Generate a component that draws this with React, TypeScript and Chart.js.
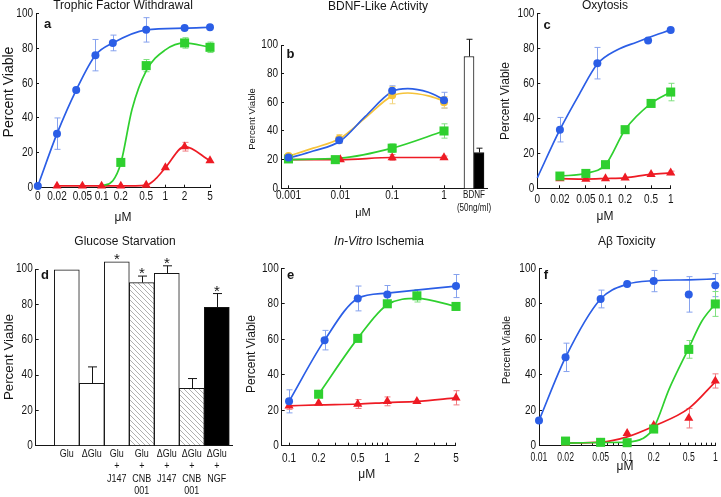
import React, { useEffect, useRef } from 'react';
import { Chart, registerables } from 'chart.js';

Chart.register(...registerables);

const W = 721;
const H = 497;
const XH = 20;
const YW = 30;
const FONT = "'Liberation Sans', Arial, Helvetica, sans-serif";
const INK = '#151515';

const BLUE = '#2b5ee6';
const BLUE_E = '#86a2ee';
const GREEN = '#2fd02f';
const GREEN_E = '#7fe07f';
const RED = '#ee1b24';
const RED_E = '#f07b80';
const GOLD = '#f6c33a';
const GOLD_E = '#f2d47c';

const yTicks = [0, 20, 40, 60, 80, 100];

// ---------- panel a : Trophic Factor Withdrawal ----------
const aTicks = [0.01, 0.02, 0.05, 0.1, 0.2, 0.5, 1, 2, 5];
const aTickLabels = ['0', '0.02', '0.05', '0.1', '0.2', '0.5', '1', '2', '5'];
const aBlueX = [0.01, 0.02, 0.04, 0.08, 0.15, 0.5, 2, 5];
const aBlueY = [1, 31, 56, 76, 83, 90.5, 91.5, 92];
const aBlueErr = [0, 9, 0, 9, 4.5, 7, 0, 0];
const aGreenX = [0.2, 0.5, 2, 5];
const aGreenY = [14.5, 70, 83, 80.5];
const aGreenErr = [0, 3.5, 3, 3];
const aGreenFitX = [0.1, 0.15, 0.2, 0.3, 0.5, 1, 2, 5];
const aGreenFitY = [1, 4, 14, 45, 67, 79, 83, 80.5];
const aRedX = [0.02, 0.05, 0.1, 0.2, 0.5, 1, 2, 5];
const aRedY = [1, 1, 1, 1, 1.5, 11.5, 23.5, 15.5];
const aRedErr = [0, 0, 0, 0, 0, 0, 2.5, 0];
const aRedFitX = [0.02, 0.05, 0.1, 0.2, 0.5, 0.7, 1, 2, 5];
const aRedFitY = [1, 1, 1, 1, 1.5, 5, 11.5, 23.5, 15.5];

// ---------- panel b : BDNF-Like Activity ----------
const bTicks = [0.001, 0.01, 0.1, 1];
const bTickLabels = ['0.001', '0.01', '0.1', '1'];
const bBlueX = [0.001, 0.0095, 0.1, 1];
const bBlueY = [21.5, 33.5, 68, 61.5];
const bBlueErr = [1.5, 2, 3.5, 5.5];
const bFitX = [0.001, 0.003, 0.01, 0.03, 0.1, 0.2, 0.5, 1];
const bBlueFitY = [21, 26, 33, 50, 67.5, 69.5, 67, 62];
const bGoldY = [22.5, 34.5, 65, 60];
const bGoldErr = [1.5, 3, 6, 4];
const bGoldFitY = [22.5, 28, 35, 49, 64.5, 66.5, 64.5, 61];
const bGreenX = [0.001, 0.008, 0.1, 1];
const bGreenY = [20.5, 20, 28, 40];
const bGreenErr = [1.5, 1, 3, 5];
const bGreenFitX = [0.001, 0.01, 0.1, 1];
const bGreenFitY = [20, 21, 28, 40];
const bRedX = [0.001, 0.01, 0.1, 1];
const bRedY = [20, 20, 21.5, 21.5];
const bRedErr = [0, 0, 2, 1];
const bBdnfLabel = ['BDNF', '(50ng/ml)'];
const bBdnfWhite = 92;
const bBdnfWhiteErr = 12;
const bBdnfBlack = 25;
const bBdnfBlackErr = 3;

// ---------- panel c : Oxytosis ----------
const cTicks = [0.009, 0.02, 0.05, 0.1, 0.2, 0.5, 1];
const cTickLabels = ['0', '0.02', '0.05', '0.1', '0.2', '0.5', '1'];
const cBlueX = [0.02, 0.075, 0.45, 1];
const cBlueY = [33.5, 71.5, 84.5, 90.5];
const cBlueErr = [7, 9, 0, 0];
const cBlueFitX = [0.009, 0.02, 0.04, 0.075, 0.15, 0.3, 0.45, 1];
const cBlueFitY = [6, 33.5, 54, 71, 79, 83.5, 86, 90.5];
const cGreenX = [0.02, 0.05, 0.1, 0.2, 0.5, 1];
const cGreenY = [7, 8.5, 13.5, 33.5, 48.5, 55];
const cGreenErr = [0, 0, 0, 0, 0, 5];
const cRedX = [0.02, 0.05, 0.1, 0.2, 0.5, 1];
const cRedY = [5.5, 5.3, 5.6, 6, 8, 8.8];
const cRedErr = [0, 0, 0, 0, 0, 1];

// ---------- panel d : Glucose Starvation ----------
const dLabels = [
  ['Glu'],
  ['ΔGlu'],
  ['Glu', '+', 'J147'],
  ['Glu', '+', 'CNB', '001'],
  ['ΔGlu', '+', 'J147'],
  ['ΔGlu', '+', 'CNB', '001'],
  ['ΔGlu', '+', 'NGF'],
];
const dValues = [99.5, 35.3, 104, 92.3, 97.5, 32.5, 78.3];
const dErrors = [0, 9.3, 0, 3.7, 4.3, 5.5, 7.8];
const dSignificant = [false, false, true, true, true, false, true];
const dFillKind = ['white', 'white', 'white', 'hatch', 'white', 'hatch', 'black'];

// ---------- panel e : In-Vitro Ischemia ----------
const eTicks = [0.1, 0.2, 0.3, 0.4, 0.5, 0.6, 0.7, 0.8, 0.9, 1, 2, 3, 4, 5];
const eTickLabels = ['0.1', '0.2', '', '', '0.5', '', '', '', '', '1', '2', '', '', '5'];
const eBlueX = [0.1, 0.23, 0.5, 1, 5];
const eBlueY = [25, 59.5, 83, 85.3, 90];
const eBlueErr = [6.5, 5.5, 7, 5, 6.5];
const eBlueFitY = [25, 59.5, 83, 86, 90];
const eGreenX = [0.2, 0.5, 1, 2, 5];
const eGreenY = [29, 60.5, 80, 84.5, 78.5];
const eGreenErr = [0, 0, 0, 3.5, 0];
const eGreenFitY = [29, 60.5, 79.5, 83, 78.5];
const eRedX = [0.1, 0.2, 0.5, 1, 2, 5];
const eRedY = [22.5, 24, 23.5, 25, 25, 27];
const eRedErr = [2, 0, 2.5, 2.5, 0, 4];
const eRedFitY = [22.5, 23, 23.5, 24.3, 25, 27];

// ---------- panel f : Abeta Toxicity ----------
const fTicks = [0.01, 0.02, 0.03, 0.04, 0.05, 0.06, 0.07, 0.08, 0.09, 0.1, 0.2, 0.3, 0.4, 0.5, 0.6, 0.7, 0.8, 0.9, 1];
const fTickLabels = ['0.01', '0.02', '', '', '0.05', '', '', '', '', '0.1', '0.2', '', '', '0.5', '', '', '', '', '1'];
const fBlueX = [0.01, 0.02, 0.05, 0.1, 0.2, 0.5, 1];
const fBlueY = [14.2, 49.8, 82.7, 91.2, 92.8, 85.3, 90.5];
const fBlueErr = [0, 8, 5, 0, 6, 10, 6.5];
const fBlueFitY = [14.2, 49.8, 82.7, 91, 93, 93.5, 94];
const fGreenX = [0.02, 0.05, 0.1, 0.2, 0.5, 1];
const fGreenY = [2.6, 1.9, 1.7, 9.4, 54.3, 79.9];
const fGreenErr = [0, 0, 0, 0, 5, 7];
const fGreenFitX = [0.02, 0.05, 0.1, 0.15, 0.2, 0.3, 0.5, 0.7, 1];
const fGreenFitY = [1.5, 1.8, 2, 4, 10, 32, 55, 70, 80];
const fRedX = [0.02, 0.05, 0.1, 0.2, 0.5, 1];
const fRedY = [1.5, 1.5, 7, 11.5, 15.5, 36.5];
const fRedErr = [0, 0, 0, 0, 5.5, 4];
const fRedFitY = [1.5, 2, 5, 11, 21, 36];

// ---------- helpers ----------
const pts = (xs: number[], ys: number[]) => xs.map((x, i) => ({ x, y: ys[i] }));
const RADIUS: any = { circle: 4, rect: 6.4, triangle: 5.3 };

function markers(color: string, errColor: string, style: string, xs: number[], ys: number[], errs: number[]) {
  return {
    data: pts(xs, ys),
    showLine: false,
    pointStyle: style,
    pointRadius: RADIUS[style],
    pointBackgroundColor: color,
    pointBorderColor: color,
    pointBorderWidth: 0,
    errors: errs,
    errorColor: errColor,
    clip: false,
    order: 0,
  };
}

function fitLine(color: string, xs: number[], ys: number[]) {
  return {
    data: pts(xs, ys),
    borderColor: color,
    borderWidth: 1.7,
    pointRadius: 0,
    fill: false,
    cubicInterpolationMode: 'monotone',
    clip: false,
    order: 1,
  };
}

function drawErrors(chart: any, onTop: boolean) {
  const ctx = chart.ctx;
  const ys = chart.scales.y;
  chart.data.datasets.forEach((ds: any, di: number) => {
    if (!ds.errors || !!ds.errorOnTop !== onTop) return;
    const meta = chart.getDatasetMeta(di);
    ctx.save();
    ctx.strokeStyle = ds.errorColor;
    ctx.lineWidth = 1;
    meta.data.forEach((el: any, i: number) => {
      const e = ds.errors[i];
      if (!e) return;
      const v = ds.data[i].y;
      const x = Math.round(el.x) + 0.5;
      const top = ys.getPixelForValue(v + e);
      const bot = ds.errorUpOnly ? ys.getPixelForValue(v) : ys.getPixelForValue(v - e);
      const cap = ds.errorCap ?? 3;
      ctx.beginPath();
      ctx.moveTo(x, top);
      ctx.lineTo(x, bot);
      ctx.moveTo(x - cap, top);
      ctx.lineTo(x + cap, top);
      if (!ds.errorUpOnly) {
        ctx.moveTo(x - cap, bot);
        ctx.lineTo(x + cap, bot);
      }
      ctx.stroke();
    });
    ctx.restore();
  });
}

const errorPlugin = {
  id: 'errorBars',
  beforeDatasetsDraw(chart: any) { drawErrors(chart, false); },
  afterDatasetsDraw(chart: any) { drawErrors(chart, true); },
};

type Part = { text: string; italic?: boolean };
type TextItem = { text?: string; parts?: Part[]; x: number; y: number; size: number; bold?: boolean; rotate?: boolean };

function textPlugin(items: TextItem[]) {
  return {
    id: 'panelText',
    afterDraw(chart: any) {
      const ctx = chart.ctx;
      items.forEach((it) => {
        ctx.save();
        ctx.translate(it.x, it.y);
        if (it.rotate) ctx.rotate(-Math.PI / 2);
        ctx.fillStyle = INK;
        ctx.textBaseline = 'middle';
        ctx.textAlign = 'left';
        const parts: Part[] = it.parts ?? [{ text: it.text as string }];
        const fontFor = (p: Part) => `${p.italic ? 'italic ' : ''}${it.bold ? 'bold ' : ''}${it.size}px ${FONT}`;
        let total = 0;
        parts.forEach((p) => { ctx.font = fontFor(p); total += ctx.measureText(p.text).width; });
        let cx = -total / 2;
        parts.forEach((p) => {
          ctx.font = fontFor(p);
          ctx.fillText(p.text, cx, 0);
          cx += ctx.measureText(p.text).width;
        });
        ctx.restore();
      });
    },
  };
}

// condensed tick labels, placed through the chart's own scales
type XLabels = { values: number[]; labels: (string | string[])[]; y: number; size: number; sx: number; lh?: number };

function drawCondensed(ctx: any, s: string, x: number, y: number, sx: number) {
  ctx.save();
  ctx.translate(x, y);
  ctx.scale(sx, 1);
  ctx.fillText(s, 0, 0);
  ctx.restore();
}

function tickLabelPlugin(xl: XLabels | null, withY: boolean) {
  return {
    id: 'condensedTicks',
    afterDraw(chart: any) {
      const ctx = chart.ctx;
      ctx.save();
      ctx.fillStyle = INK;
      ctx.textBaseline = 'middle';
      if (xl) {
        const sc = chart.scales.x;
        ctx.font = `${xl.size}px ${FONT}`;
        ctx.textAlign = 'center';
        xl.values.forEach((v, i) => {
          const lab = xl.labels[i];
          const lines = Array.isArray(lab) ? lab : [lab];
          const px = sc.getPixelForValue(v);
          lines.forEach((ln, j) => {
            if (ln) drawCondensed(ctx, ln, px, xl.y + j * (xl.lh ?? 0), xl.sx);
          });
        });
      }
      if (withY) {
        const sc = chart.scales.y;
        const x = chart.chartArea.left - 3;
        ctx.font = `12.5px ${FONT}`;
        ctx.textAlign = 'right';
        yTicks.forEach((v) => drawCondensed(ctx, String(v), x, sc.getPixelForValue(v), 0.8));
      }
      ctx.restore();
    },
  };
}

function starPlugin(values: number[], errors: number[], flags: boolean[]) {
  return {
    id: 'stars',
    afterDatasetsDraw(chart: any) {
      const ctx = chart.ctx;
      const xs = chart.scales.x;
      const ys = chart.scales.y;
      ctx.save();
      ctx.fillStyle = INK;
      ctx.font = `15px ${FONT}`;
      ctx.textAlign = 'center';
      ctx.textBaseline = 'alphabetic';
      flags.forEach((f, i) => {
        if (!f) return;
        ctx.fillText('*', xs.getPixelForValue(i), ys.getPixelForValue(values[i] + errors[i]) + 2);
      });
      ctx.restore();
    },
  };
}

function frame(L: number, R: number, T: number, B: number, yw = YW) {
  return { autoPadding: false, padding: { left: L - yw, right: W - R, top: T, bottom: H - B - XH } };
}

function baseOptions(layout: any, scales: any) {
  return {
    responsive: false,
    animation: false,
    events: [],
    layout,
    plugins: { legend: { display: false }, tooltip: { enabled: false }, title: { display: false } },
    scales,
  };
}

function yAxis(yw = YW) {
  return {
    type: 'linear',
    min: 0,
    max: 100,
    afterBuildTicks: (s: any) => { s.ticks = yTicks.map((v) => ({ value: v })); },
    afterFit: (s: any) => { s.width = yw; },
    ticks: { display: false },
    grid: { drawOnChartArea: false, drawTicks: true, tickLength: -3, color: INK, lineWidth: 1 },
    border: { display: true, color: INK, width: 1 },
  };
}

function logX(min: number, max: number, ticks: number[]) {
  return {
    type: 'logarithmic',
    min,
    max,
    afterBuildTicks: (s: any) => { s.ticks = ticks.map((v) => ({ value: v })); },
    afterFit: (s: any) => { s.height = XH; },
    ticks: { display: false, autoSkip: false },
    grid: { drawOnChartArea: false, drawTicks: true, tickLength: -3, color: INK, lineWidth: 1 },
    border: { display: true, color: INK, width: 1 },
  };
}

function lineChart(layout: any, x: any, datasets: any[], xl: XLabels, texts: TextItem[]) {
  return {
    type: 'line',
    data: { datasets },
    options: baseOptions(layout, { x, y: yAxis() }),
    plugins: [errorPlugin, tickLabelPlugin(xl, true), textPlugin(texts)],
  };
}

// ---------- charts ----------
function makeA() {
  return lineChart(
    frame(36, 210, 13.3, 187.7),
    logX(0.00937, 5, aTicks),
    [
      markers(BLUE, BLUE_E, 'circle', aBlueX, aBlueY, aBlueErr),
      markers(GREEN, GREEN_E, 'rect', aGreenX, aGreenY, aGreenErr),
      markers(RED, RED_E, 'triangle', aRedX, aRedY, aRedErr),
      fitLine(BLUE, aBlueX, aBlueY),
      fitLine(GREEN, aGreenFitX, aGreenFitY),
      fitLine(RED, aRedFitX, aRedFitY),
    ],
    { values: aTicks, labels: aTickLabels, y: 197, size: 12.5, sx: 0.8 },
    [
      { text: 'Trophic Factor Withdrawal', x: 123, y: 6, size: 12 },
      { text: 'a', x: 47.5, y: 24, size: 13, bold: true },
      { text: 'Percent Viable', x: 9.5, y: 92, size: 14, rotate: true },
      { text: 'μM', x: 123, y: 218, size: 12 },
    ],
  );
}

function makeB() {
  return lineChart(
    frame(281, 448, 45, 188.3),
    logX(0.000717, 1.194, bTicks),
    [
      markers(BLUE, BLUE_E, 'circle', bBlueX, bBlueY, bBlueErr),
      markers(GOLD, GOLD_E, 'circle', bBlueX, bGoldY, bGoldErr),
      markers(GREEN, GREEN_E, 'rect', bGreenX, bGreenY, bGreenErr),
      markers(RED, RED_E, 'triangle', bRedX, bRedY, bRedErr),
      fitLine(BLUE, bFitX, bBlueFitY),
      fitLine(GOLD, bFitX, bGoldFitY),
      fitLine(GREEN, bGreenFitX, bGreenFitY),
      fitLine(RED, bRedX, bRedY),
    ],
    { values: bTicks, labels: bTickLabels, y: 196, size: 12.5, sx: 0.8 },
    [
      { text: 'BDNF-Like Activity', x: 378, y: 7, size: 12 },
      { text: 'b', x: 290.5, y: 54, size: 13, bold: true },
      { text: 'Percent Viable', x: 252, y: 119, size: 9.5, rotate: true },
      { text: 'μM', x: 363, y: 213, size: 11 },
    ],
  );
}

function makeBBars() {
  const bar = (v: number, e: number, fill: string) => ({
    type: 'bar',
    data: [{ x: 0, y: v }],
    backgroundColor: fill,
    borderColor: INK,
    borderWidth: 1,
    barThickness: 10,
    errors: [e],
    errorColor: INK,
    errorUpOnly: true,
    errorOnTop: true,
    errorCap: 3,
    clip: false,
  });
  return {
    type: 'bar',
    data: { datasets: [bar(bBdnfWhite, bBdnfWhiteErr, '#ffffff'), bar(bBdnfBlack, bBdnfBlackErr, '#000000')] },
    options: baseOptions(frame(448, 487, 45, 188.3, 0), {
      x: {
        type: 'linear', min: -1, max: 0.5, offset: false,
        afterBuildTicks: (s: any) => { s.ticks = [{ value: 0 }]; },
        afterFit: (s: any) => { s.height = XH; },
        ticks: { display: false },
        grid: { display: false, offset: false },
        border: { display: true, color: INK, width: 1 },
      },
      y: { type: 'linear', min: 0, max: 100, display: false },
    }),
    plugins: [
      errorPlugin,
      tickLabelPlugin({ values: [0], labels: [bBdnfLabel], y: 195, size: 10.5, sx: 0.77, lh: 13 }, false),
    ],
  };
}

function makeC() {
  return lineChart(
    frame(537.3, 670.7, 13.3, 188.3),
    logX(0.009, 1, cTicks),
    [
      markers(BLUE, BLUE_E, 'circle', cBlueX, cBlueY, cBlueErr),
      markers(GREEN, GREEN_E, 'rect', cGreenX, cGreenY, cGreenErr),
      markers(RED, RED_E, 'triangle', cRedX, cRedY, cRedErr),
      fitLine(BLUE, cBlueFitX, cBlueFitY),
      fitLine(GREEN, cGreenX, cGreenY),
      fitLine(RED, cRedX, cRedY),
    ],
    { values: cTicks, labels: cTickLabels, y: 199.3, size: 12.5, sx: 0.8 },
    [
      { text: 'Oxytosis', x: 605, y: 6, size: 12 },
      { text: 'c', x: 547, y: 25, size: 13, bold: true },
      { text: 'Percent Viable', x: 506, y: 101, size: 12, rotate: true },
      { text: 'μM', x: 605, y: 216.7, size: 12 },
    ],
  );
}

function makeHatch() {
  const c = document.createElement('canvas');
  c.width = 5;
  c.height = 5;
  const g = c.getContext('2d') as CanvasRenderingContext2D;
  g.fillStyle = '#ffffff';
  g.fillRect(0, 0, 5, 5);
  g.strokeStyle = '#b0b0b0';
  g.lineWidth = 1;
  g.beginPath();
  g.moveTo(-1, -1);
  g.lineTo(6, 6);
  g.stroke();
  return g.createPattern(c, 'repeat');
}

function makeD() {
  const hatch = makeHatch();
  const fills = dFillKind.map((k) => (k === 'hatch' ? hatch : k === 'black' ? '#000000' : '#ffffff'));
  const idx = dLabels.map((_l, i) => i);
  return {
    type: 'bar',
    data: {
      datasets: [
        {
          data: dValues.map((v, i) => ({ x: i, y: v })),
          backgroundColor: fills,
          borderColor: INK,
          borderWidth: 1,
          barPercentage: 1,
          categoryPercentage: 1,
          errors: dErrors,
          errorColor: INK,
          errorUpOnly: true,
          errorOnTop: true,
          errorCap: 4.5,
          clip: false,
        },
      ],
    },
    options: baseOptions(frame(35.7, 233, 269, 445.7), {
      x: {
        type: 'linear', min: -1.244, max: 6.648, offset: false,
        afterBuildTicks: (s: any) => { s.ticks = idx.map((i) => ({ value: i })); },
        afterFit: (s: any) => { s.height = XH; },
        ticks: { display: false },
        grid: { display: false, offset: false },
        border: { display: true, color: INK, width: 1 },
      },
      y: yAxis(),
    }),
    plugins: [
      errorPlugin,
      starPlugin(dValues, dErrors, dSignificant),
      tickLabelPlugin({ values: idx, labels: dLabels, y: 454, size: 11.5, sx: 0.78, lh: 12.3 }, true),
      textPlugin([
        { text: 'Glucose Starvation', x: 125, y: 242, size: 12 },
        { text: 'd', x: 45, y: 275, size: 13, bold: true },
        { text: 'Percent Viable', x: 9.5, y: 357, size: 13.3, rotate: true },
      ]),
    ],
  };
}

function makeE() {
  return lineChart(
    frame(281.7, 456, 268.3, 445.7),
    logX(0.0842, 5, eTicks),
    [
      markers(BLUE, BLUE_E, 'circle', eBlueX, eBlueY, eBlueErr),
      markers(GREEN, GREEN_E, 'rect', eGreenX, eGreenY, eGreenErr),
      markers(RED, RED_E, 'triangle', eRedX, eRedY, eRedErr),
      fitLine(BLUE, eBlueX, eBlueFitY),
      fitLine(GREEN, eGreenX, eGreenFitY),
      fitLine(RED, eRedX, eRedFitY),
    ],
    { values: eTicks, labels: eTickLabels, y: 458.3, size: 12.5, sx: 0.8 },
    [
      { parts: [{ text: 'In-Vitro', italic: true }, { text: ' Ischemia' }], x: 379, y: 242, size: 12 },
      { text: 'e', x: 290.5, y: 275, size: 13, bold: true },
      { text: 'Percent Viable', x: 252, y: 354, size: 12, rotate: true },
      { text: 'μM', x: 366.7, y: 475, size: 12 },
    ],
  );
}

function makeF() {
  return lineChart(
    frame(539, 715.3, 268.3, 445.7),
    logX(0.01, 1, fTicks),
    [
      markers(BLUE, BLUE_E, 'circle', fBlueX, fBlueY, fBlueErr),
      markers(GREEN, GREEN_E, 'rect', fGreenX, fGreenY, fGreenErr),
      markers(RED, RED_E, 'triangle', fRedX, fRedY, fRedErr),
      fitLine(BLUE, fBlueX, fBlueFitY),
      fitLine(GREEN, fGreenFitX, fGreenFitY),
      fitLine(RED, fRedX, fRedFitY),
    ],
    { values: fTicks, labels: fTickLabels, y: 457.3, size: 12, sx: 0.72 },
    [
      { text: 'Aβ Toxicity', x: 626.7, y: 242, size: 12 },
      { text: 'f', x: 546, y: 275.5, size: 13, bold: true },
      { text: 'Percent Viable', x: 507.5, y: 350, size: 10.5, rotate: true },
      { text: 'μM', x: 625, y: 467, size: 12 },
    ],
  );
}

function ChartCanvas({ make }: { make: () => any }) {
  const ref = useRef<HTMLCanvasElement>(null);
  useEffect(() => {
    const chart = new Chart(ref.current as HTMLCanvasElement, make());
    return () => chart.destroy();
  }, [make]);
  return (
    <canvas
      ref={ref}
      width={W}
      height={H}
      style={{ position: 'absolute', left: 0, top: 0, width: W, height: H }}
    />
  );
}

const MAKERS = [makeA, makeB, makeBBars, makeC, makeD, makeE, makeF];

export default function App() {
  return (
    <div style={{ position: 'fixed', left: 0, top: 0, width: W, height: H, background: '#ffffff', overflow: 'hidden' }}>
      {MAKERS.map((m, i) => (
        <ChartCanvas key={i} make={m} />
      ))}
    </div>
  );
}
